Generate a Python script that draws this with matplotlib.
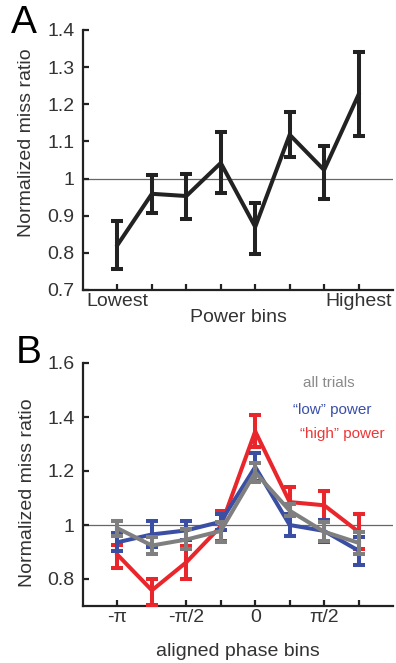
import matplotlib
matplotlib.use("Agg")
import matplotlib.pyplot as plt
import numpy as np

plt.rcParams['font.family'] = ['Liberation Sans', 'DejaVu Sans']

# Panel A data
power_bins = [1, 2, 3, 4, 5, 6, 7, 8]
power_labels = ['Lowest', '', '', '', '', '', '', 'Highest']
a_mean = [0.821, 0.959, 0.953, 1.042, 0.870, 1.118, 1.023, 1.226]
a_low = [0.756, 0.907, 0.891, 0.961, 0.797, 1.058, 0.946, 1.114]
a_high = [0.886, 1.010, 1.013, 1.125, 0.935, 1.180, 1.089, 1.341]

# Panel B data
phase_bins = [1, 2, 3, 4, 5, 6, 7, 8]
phase_labels = ['-π', '', '-π/2', '', '0', '', 'π/2', '']
red_mean = [0.890, 0.758, 0.862, 0.995, 1.347, 1.085, 1.073, 0.975]
red_low = [0.842, 0.703, 0.800, 0.940, 1.290, 1.035, 1.020, 0.912]
red_high = [0.926, 0.800, 0.924, 1.053, 1.409, 1.139, 1.127, 1.040]
blue_mean = [0.936, 0.965, 0.980, 1.012, 1.215, 1.000, 0.978, 0.905]
blue_low = [0.902, 0.918, 0.945, 0.982, 1.163, 0.961, 0.936, 0.852]
blue_high = [0.970, 1.013, 1.015, 1.040, 1.267, 1.040, 1.020, 0.955]
gray_mean = [0.988, 0.924, 0.946, 0.978, 1.195, 1.053, 0.975, 0.934]
gray_low = [0.961, 0.892, 0.912, 0.938, 1.160, 1.032, 0.942, 0.893]
gray_high = [1.016, 0.955, 0.985, 1.010, 1.228, 1.078, 1.010, 0.973]

W, H = 396, 663
fig = plt.figure(figsize=(W / 100, H / 100), dpi=100)

def frac_axes(left, top, right, bottom):
    return fig.add_axes([left / W, 1 - bottom / H, (right - left) / W, (bottom - top) / H])

txt_col = '#333333'
fs = 14

def style(ax):
    for s in ['top', 'right']:
        ax.spines[s].set_visible(False)
    for s in ['left', 'bottom']:
        ax.spines[s].set_linewidth(1.6)
        ax.spines[s].set_color('#222222')
    ax.tick_params(direction='in', length=4, width=1.6, color='#222222',
                   labelsize=fs, labelcolor=txt_col)
    ax.tick_params(axis='y', pad=6)
    ax.tick_params(axis='x', pad=2)

# ---- Panel A ----
axA = frac_axes(83, 30, 393, 290)
axA.axhline(1.0, color='#666666', lw=0.9, zorder=1)
yerrA = [np.array(a_mean) - np.array(a_low), np.array(a_high) - np.array(a_mean)]
axA.errorbar(power_bins, a_mean, yerr=yerrA, color='#222222', lw=2.9,
             elinewidth=2.9, capsize=4, capthick=2.9, zorder=3)
axA.set_xlim(0, 9)
axA.set_ylim(0.7, 1.4)
axA.set_xticks(power_bins)
axA.set_xticklabels(power_labels)
axA.set_yticks([0.7, 0.8, 0.9, 1.0, 1.1, 1.2, 1.3, 1.4])
axA.set_yticklabels(['0.7', '0.8', '0.9', '1', '1.1', '1.2', '1.3', '1.4'])
style(axA)
axA.set_xlabel('Power bins', fontsize=fs, color=txt_col)
axA.xaxis.set_label_coords(0.5, (290 - 318) / 260, transform=axA.transAxes)
axA.xaxis.label.set_va('center')
axA.set_ylabel('Normalized miss ratio', fontsize=fs, color=txt_col)
axA.yaxis.set_label_coords((27 - 83) / 310, (290 - 143) / 260)
axA.yaxis.label.set_va('center')
fig.text(11 / W, 1 - 33 / H, 'A', fontsize=28, color='black', va='baseline', ha='left')

# ---- Panel B ----
axB = frac_axes(83, 363, 393, 606)
axB.axhline(1.0, color='#666666', lw=0.9, zorder=1)
series = [
    (red_mean, red_low, red_high, '#e8262b'),
    (blue_mean, blue_low, blue_high, '#3a4fa3'),
    (gray_mean, gray_low, gray_high, '#7f7f7f'),
]
for i, (m, lo, hi, c) in enumerate(series):
    m = np.array(m)
    yerr = [m - np.array(lo), np.array(hi) - m]
    axB.errorbar(phase_bins, m, yerr=yerr, color=c, lw=2.9, elinewidth=2.9,
                 capsize=4.6, capthick=2.9, zorder=3 + i)
axB.set_xlim(0, 9)
axB.set_ylim(0.7, 1.6)
axB.set_xticks(phase_bins)
axB.set_xticklabels(phase_labels)
axB.set_yticks([0.8, 1.0, 1.2, 1.4, 1.6])
axB.set_yticklabels(['0.8', '1', '1.2', '1.4', '1.6'])
style(axB)
axB.set_xlabel('aligned phase bins', fontsize=fs, color=txt_col)
axB.xaxis.set_label_coords(0.5, (606 - 652) / 243)
axB.xaxis.label.set_va('center')
axB.set_ylabel('Normalized miss ratio', fontsize=fs, color=txt_col)
axB.yaxis.set_label_coords((28 - 83) / 310, (606 - 493) / 243)
axB.yaxis.label.set_va('center')
axB.text((303 - 83) / 310, (606 - 383) / 243, 'all trials', transform=axB.transAxes,
         fontsize=11, color='#8a8a8a', va='center', ha='left')
axB.text((293 - 83) / 310, (606 - 410) / 243, '\u201clow\u201d power', transform=axB.transAxes,
         fontsize=11, color='#3a4fa8', va='center', ha='left')
axB.text((300 - 83) / 310, (606 - 434) / 243, '\u201chigh\u201d power', transform=axB.transAxes,
         fontsize=11, color='#ef3535', va='center', ha='left')
fig.text(16 / W, 1 - 363 / H, 'B', fontsize=28, color='black', va='baseline', ha='left')

fig.savefig('out.png', dpi=100)
